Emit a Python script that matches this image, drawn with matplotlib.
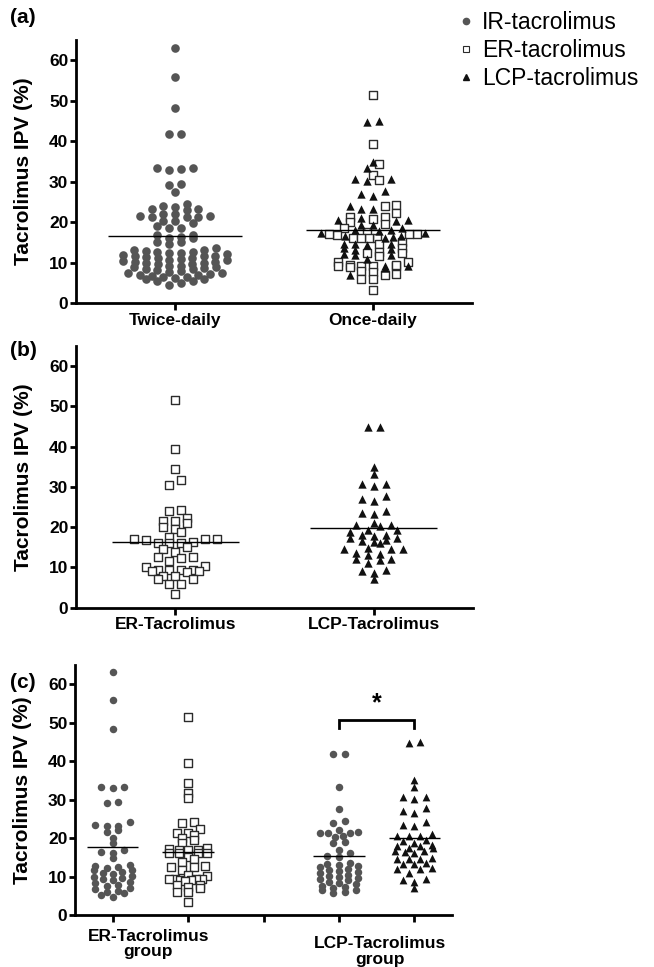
import numpy as np
import matplotlib
matplotlib.use('Agg')
import matplotlib.pyplot as plt
from matplotlib.lines import Line2D

plt.rcParams['font.family'] = ['Liberation Sans', 'DejaVu Sans']

# --- data (Tacrolimus IPV, %) ---

# IR-tacrolimus patients later converted to ER-tacrolimus
ir_er = [63.0, 55.8, 48.2, 33.3, 33.0, 33.2, 29.4, 29.2, 24.1, 23.4, 23.2, 23.1,
         22.1, 21.5, 19.9, 18.6, 16.9, 16.3, 16.2, 14.7,
         13.1, 12.7, 12.5, 12.2, 11.8, 11.6, 11.1, 10.9, 10.6, 10.1, 9.9, 9.7,
         9.3, 9.0, 8.5, 8.3, 7.8, 7.6, 7.0, 6.8, 6.2, 5.9, 5.6, 5.1, 4.6]

# IR-tacrolimus patients later converted to LCP-tacrolimus
ir_lcp = [41.8, 41.7, 33.3, 27.5, 24.5, 23.8, 22.1, 21.4, 21.5, 21.3, 21.4,
          20.3, 20.4, 18.6, 19.0, 16.9, 16.0, 15.2, 15.1,
          13.6, 13.2, 12.9, 12.6, 12.4, 12.0, 11.7, 11.5, 11.1, 10.8, 10.5, 10.2,
          9.9, 9.6, 9.3, 9.0, 8.7, 8.4, 8.0, 7.6, 7.3, 6.9, 6.5, 6.4, 5.9, 5.6]

# ER-tacrolimus
er = [51.5, 39.4, 34.4, 31.7, 30.4, 24.2, 24.0, 22.3, 21.4, 21.4, 20.9, 20.1,
      19.5, 18.7, 17.5, 17.1, 17.0, 16.9, 17.0, 16.2, 16.1, 16.0, 16.1, 15.1,
      14.6, 13.7, 12.5, 12.4, 12.7, 11.6, 10.3, 10.1, 9.4, 9.3, 9.2, 9.3, 9.4,
      9.2, 8.9, 7.9, 7.8, 7.1, 7.2, 5.9, 6.0, 3.3]

# LCP-tacrolimus
lcp = [44.9, 44.8, 35.0, 33.3, 30.7, 30.6, 30.2, 27.7, 26.9, 26.5, 24.1, 23.2,
       23.4, 20.5, 20.4, 20.6, 21.1, 19.4, 19.3, 18.7, 18.0, 18.1, 17.9, 17.4,
       17.3, 16.5, 16.4, 16.1, 16.7, 14.6, 14.5, 14.7, 14.6, 13.6, 13.3, 13.2,
       12.0, 12.1, 11.9, 11.0, 9.3, 9.2, 8.7, 7.1]

labels_a = ['Twice-daily', 'Once-daily']
labels_b = ['ER-Tacrolimus', 'LCP-Tacrolimus']
labels_c = ['ER-Tacrolimus\ngroup', 'LCP-Tacrolimus\ngroup']
yticks = [0, 10, 20, 30, 40, 50, 60]

GRAY = '#555555'
SQ_EDGE = '#2b2b2b'
TRI = '#111111'


def prism_x(ax, xpos, values, bin_px, step_px, max_px):
    """Prism-like scatter: group points into rows of bin_px height and
    centre each row, squeezing rows wider than max_px."""
    values = np.asarray(values, float)
    pts = ax.transData.transform(np.column_stack([np.full(len(values), xpos), values]))
    ypx = pts[:, 1]
    order = np.argsort(values, kind='stable')
    rows, cur, start = [], [], None
    for i in order:
        if cur and ypx[i] - start >= bin_px:
            rows.append(cur)
            cur = []
        if not cur:
            start = ypx[i]
        cur.append(i)
    rows.append(cur)
    off = np.zeros(len(values))
    for row in rows:
        n = len(row)
        step = step_px if n == 1 else min(step_px, max_px / (n - 1))
        slots = (np.arange(n) - (n - 1) / 2) * step
        slots = slots[np.argsort(np.abs(slots), kind='stable')]
        off[row] = slots
    back = ax.transData.inverted().transform(np.column_stack([pts[:, 0] + off, ypx]))
    return back[:, 0]


def style_axis(ax, xlim):
    ax.set_xlim(*xlim)
    ax.set_ylim(0, 65)
    ax.set_yticks(yticks)
    for s in ['top', 'right']:
        ax.spines[s].set_visible(False)
    for s in ['left', 'bottom']:
        ax.spines[s].set_linewidth(2.0)
    ax.tick_params(axis='both', width=2.0, length=4, labelsize=12.5, pad=1.5)
    ax.tick_params(axis='x', length=5, labelsize=12.5, pad=2)
    for t in ax.get_yticklabels() + ax.get_xticklabels():
        t.set_fontweight('bold')
    ax.set_ylabel('Tacrolimus IPV (%)', fontsize=15, fontweight='bold')


def draw_group(ax, xpos, groups, layout, sizes, hw):
    """groups: list of (values, kind); layout: (bin_px, step_px, max_px)."""
    vals = np.concatenate([np.asarray(v, float) for v, k in groups])
    kinds = np.concatenate([[k] * len(v) for v, k in groups])
    xs = prism_x(ax, xpos, vals, *layout)
    for kind in ['o', 's', '^']:
        m = kinds == kind
        if not m.any():
            continue
        if kind == 'o':
            ax.scatter(xs[m], vals[m], s=sizes['o'] ** 2, marker='o', color=GRAY,
                       linewidths=0, zorder=3)
        elif kind == 's':
            ax.scatter(xs[m], vals[m], s=sizes['s'] ** 2, marker='s', facecolor='white',
                       edgecolor=SQ_EDGE, linewidths=1.0, zorder=3)
        else:
            ax.scatter(xs[m], vals[m], s=sizes['^'] ** 2, marker='^', color=TRI,
                       linewidths=0, zorder=3)
    ax.hlines(vals.mean(), xpos - hw, xpos + hw, color='black', lw=1.0, zorder=4)


fig = plt.figure(figsize=(6.54, 9.67), dpi=100)
W, H = 654, 967

ax_a = fig.add_axes([76 / W, 1 - 303.3 / H, 396 / W, 263.3 / H])
ax_b = fig.add_axes([76 / W, 1 - 607.7 / H, 397 / W, 261.9 / H])
ax_c = fig.add_axes([75 / W, 1 - 915 / H, 377 / W, 250.2 / H])

# --- (a) twice-daily vs once-daily ---
style_axis(ax_a, (-0.5, 1.5))
ax_a.set_xticks([0, 1])
ax_a.set_xticklabels(labels_a, fontweight='bold')
sz_a = {'o': 6.2, 's': 5.4, '^': 6.0}
lay_a = (6.0, 11.7, 104)
draw_group(ax_a, 0, [(ir_er + ir_lcp, 'o')], lay_a, sz_a, 0.34)
draw_group(ax_a, 1, [(er, 's'), (lcp, '^')], lay_a, sz_a, 0.34)

# --- (b) ER vs LCP ---
style_axis(ax_b, (-0.5, 1.5))
ax_b.set_xticks([0, 1])
ax_b.set_xticklabels(labels_b, fontweight='bold')
sz_b = {'o': 6.2, 's': 5.4, '^': 6.0}
lay_b = (6.0, 11.8, 104)
draw_group(ax_b, 0, [(er, 's')], lay_b, sz_b, 0.32)
draw_group(ax_b, 1, [(lcp, '^')], lay_b, sz_b, 0.32)

# --- (c) IR vs converted formulation within each group ---
style_axis(ax_c, (-0.5, 4.5))
ax_c.set_xticks([0, 1, 2, 3, 4])
ax_c.set_xticklabels([])
sz_c = {'o': 5.4, 's': 5.4, '^': 5.6}
lay_c = (4.8, 11.5, 38)
draw_group(ax_c, 0, [(ir_er, 'o')], lay_c, sz_c, 0.34)
draw_group(ax_c, 1, [(er, 's')], lay_c, sz_c, 0.34)
draw_group(ax_c, 3, [(ir_lcp, 'o')], lay_c, sz_c, 0.34)
draw_group(ax_c, 4, [(lcp, '^')], lay_c, sz_c, 0.34)
tr = ax_c.get_xaxis_transform()
ax_c.text(0.47, -0.055, labels_c[0], transform=tr, ha='center', va='top',
          fontsize=12.5, fontweight='bold', linespacing=1.05)
ax_c.text(3.55, -0.085, labels_c[1], transform=tr, ha='center', va='top',
          fontsize=12.5, fontweight='bold', linespacing=1.05)

# significance bracket
ax_c.plot([3, 3, 4, 4], [48.6, 50.6, 50.6, 48.6], color='black', lw=2.0,
          solid_joinstyle='miter', clip_on=False)
ax_c.text(3.5, 51.8, '*', ha='center', va='bottom', fontsize=18, fontweight='bold')

for ax, w in [(ax_a, 396), (ax_b, 397), (ax_c, 377)]:
    ax.yaxis.set_label_coords(-43 / w, 0.5)

# panel letters
for lab, ytop in [('(a)', 8), ('(b)', 341), ('(c)', 673)]:
    fig.text(10 / W, 1 - ytop / H, lab, ha='left', va='top', fontsize=15,
             fontweight='bold')

# legend
handles = [
    Line2D([], [], ls='none', marker='o', ms=4.5, color=GRAY, mec=GRAY),
    Line2D([], [], ls='none', marker='s', ms=5, mfc='white', mec=SQ_EDGE, mew=0.8),
    Line2D([], [], ls='none', marker='^', ms=4.5, color=TRI),
]
fig.legend(handles, ['IR-tacrolimus', 'ER-tacrolimus', 'LCP-tacrolimus'],
           loc='upper left', bbox_to_anchor=(458 / W, 1 - 11 / H), frameon=False,
           fontsize=16.5, handlelength=0.7, handletextpad=0.35, labelspacing=0.22,
           borderpad=0, borderaxespad=0)

fig.savefig('out.png', dpi=100)
